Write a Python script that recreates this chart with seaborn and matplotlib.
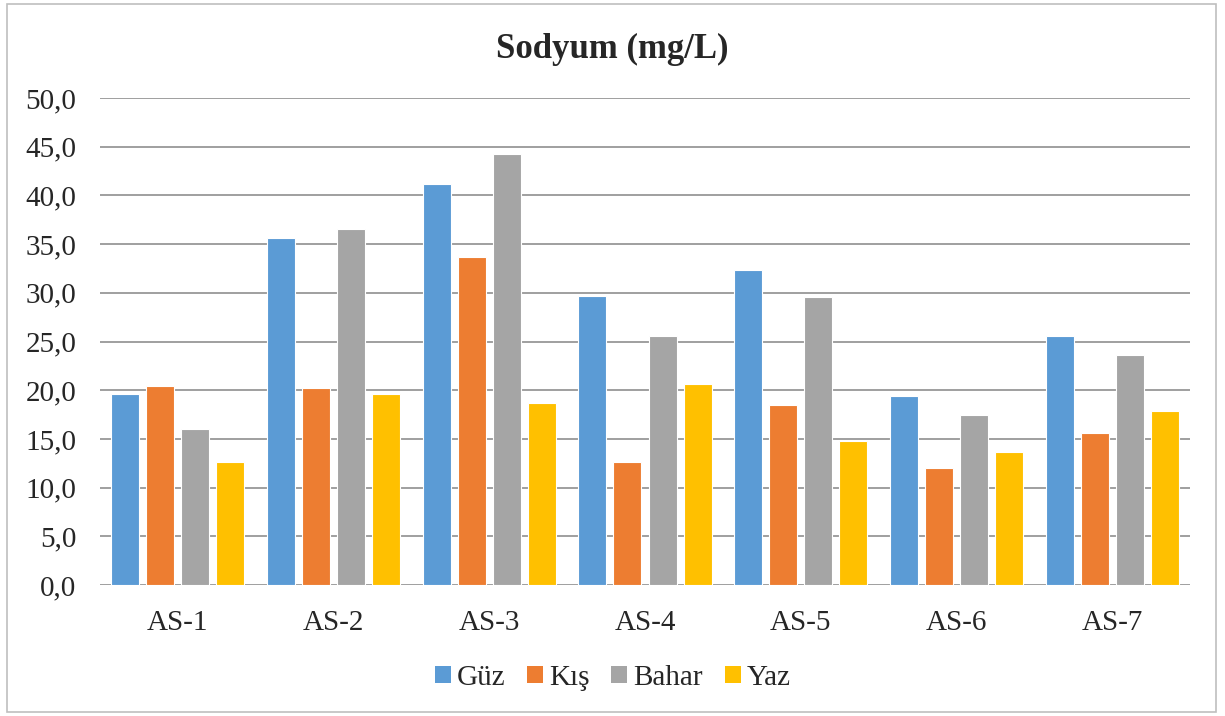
import numpy as np
import pandas as pd
import matplotlib
matplotlib.use("Agg")
import matplotlib.pyplot as plt
from matplotlib.patches import Rectangle, Patch
from matplotlib.font_manager import FontProperties
import seaborn as sns

categories = ["AS-1", "AS-2", "AS-3", "AS-4", "AS-5", "AS-6", "AS-7"]
seasons = ["Güz", "Kış", "Bahar", "Yaz"]
guz = [19.6, 35.6, 41.2, 29.7, 32.3, 19.4, 25.6]
kis = [20.4, 20.2, 33.7, 12.6, 18.5, 12.0, 15.6]
bahar = [16.0, 36.5, 44.2, 25.6, 29.6, 17.5, 23.6]
yaz = [12.6, 19.6, 18.7, 20.6, 14.8, 13.7, 17.9]
colors = ["#5B9BD5", "#ED7D31", "#A5A5A5", "#FFC000"]
yticks = [0, 5, 10, 15, 20, 25, 30, 35, 40, 45, 50]

rows = []
for s, vals in zip(seasons, [guz, kis, bahar, yaz]):
    for c, v in zip(categories, vals):
        rows.append({"Nokta": c, "Mevsim": s, "Deger": v})
df = pd.DataFrame(rows)

sns.set_theme(style="white")
plt.rcParams["font.family"] = ["Liberation Serif", "DejaVu Serif"]

fig = plt.figure(figsize=(12.25, 7.16), dpi=100)
ax = fig.add_axes([100/1225, (716-585)/716, 1090/1225, 487/716])

sns.barplot(data=df, x="Nokta", y="Deger", hue="Mevsim", order=categories,
            hue_order=seasons, palette=colors, width=0.9, gap=0.2,
            edgecolor="white", linewidth=0.8, saturation=1, ax=ax,
            legend=False, zorder=3)

ax.set_ylim(0, 50)
ax.set_yticks(yticks)
ax.set_yticklabels([f"{v:.1f}".replace(".", ",") for v in yticks], fontsize=21)
ax.tick_params(axis="x", labelsize=21, length=0, pad=18)
ax.tick_params(axis="y", length=0, pad=17)
ax.set_xlabel("")
ax.set_ylabel("")
ax.set_xlim(-0.5, len(categories) - 0.5)
ax.yaxis.grid(True, color="#979797", linewidth=1.3, zorder=0)
ax.set_axisbelow(True)
for sp in ax.spines.values():
    sp.set_visible(False)

fig.text(0.5, 1 - 49/716, "Sodyum (mg/L)", ha="center", va="center",
         fontsize=25, fontweight="bold")

handles = [Patch(facecolor=c, edgecolor="none") for c in colors]
fig.legend(handles, seasons, loc="center", bbox_to_anchor=(0.5, 1 - 678/716),
           ncol=4, frameon=False,
           prop=FontProperties(family="Liberation Serif", size=21),
           handlelength=0.55, handleheight=0.55, handletextpad=0.2,
           columnspacing=0.75)

fig.patches.append(Rectangle((7/1225, 4/716), 1209/1225, 708/716,
                             transform=fig.transFigure, fill=False,
                             edgecolor="#BFBFBF", linewidth=1.2))

fig.savefig("out.png", dpi=100, facecolor="white")
